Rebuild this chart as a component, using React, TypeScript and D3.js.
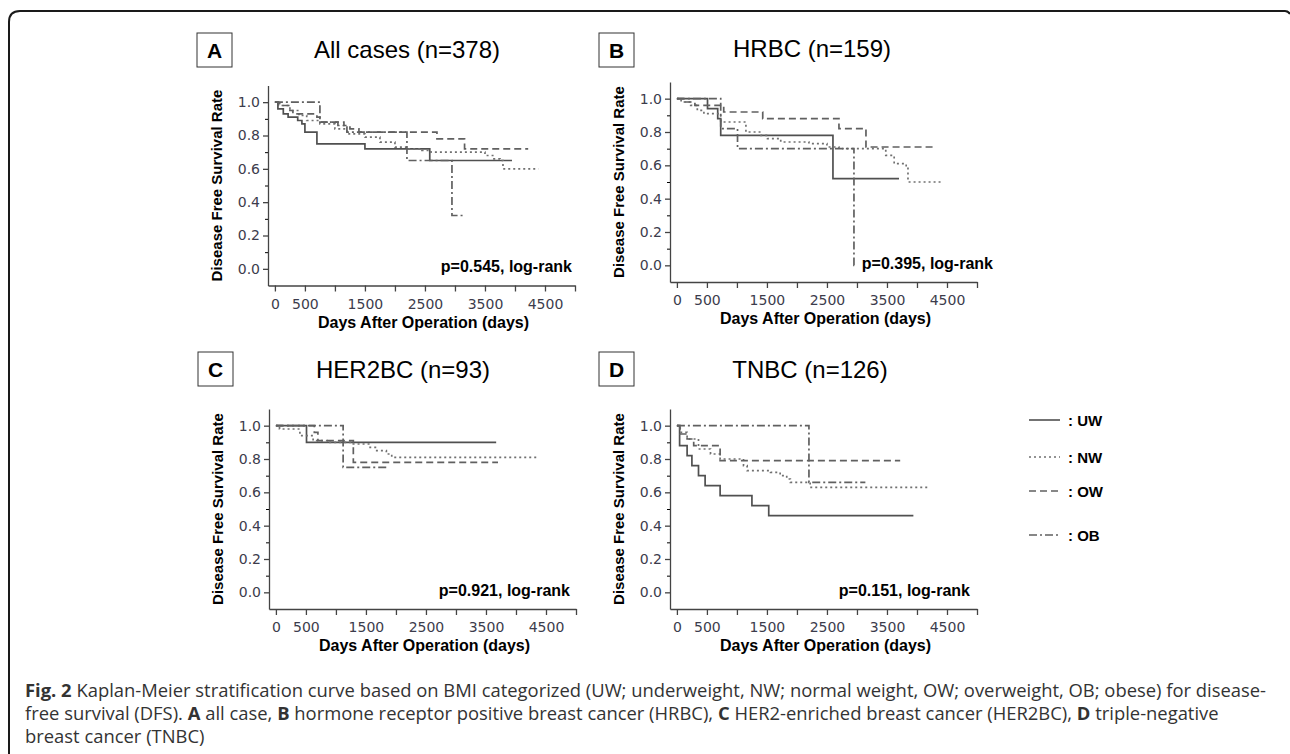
import React, { useRef, useEffect } from 'react';
import * as d3 from 'd3';

// BMI groups, in legend order
const groups = ['UW', 'NW', 'OW', 'OB'];

// axis ticks
const xTicks = [0, 500, 1000, 1500, 2000, 2500, 3000, 3500, 4000, 4500, 5000];
const xTickLabels = [0, 500, 1500, 2500, 3500, 4500];
const yTicks = [0, 0.2, 0.4, 0.6, 0.8, 1.0];
const yMinorTicks = [0.1, 0.3, 0.5, 0.7, 0.9];

// Kaplan-Meier steps [days, survival]
// A: all cases
const aUW: [number, number][] = [[0, 1], [50, 0.96], [140, 0.93], [220, 0.91], [380, 0.89], [450, 0.87], [500, 0.82], [700, 0.75], [1500, 0.72], [2580, 0.65], [3950, 0.65]];
const aNW: [number, number][] = [[0, 1], [80, 0.98], [250, 0.95], [400, 0.92], [530, 0.89], [750, 0.87], [1000, 0.84], [1200, 0.81], [1500, 0.79], [1750, 0.76], [2000, 0.73], [2200, 0.72], [2450, 0.71], [2600, 0.70], [3500, 0.68], [3650, 0.66], [3750, 0.65], [3800, 0.60], [4390, 0.60]];
const aOW: [number, number][] = [[0, 1], [60, 0.98], [250, 0.95], [300, 0.93], [700, 0.91], [750, 0.88], [1150, 0.86], [1250, 0.84], [1400, 0.82], [2700, 0.78], [3160, 0.72], [4220, 0.72]];
const aOB: [number, number][] = [[0, 1], [750, 0.88], [1050, 0.86], [1200, 0.82], [2200, 0.65], [2950, 0.32], [3140, 0.32]];
// B: HRBC
const bUW: [number, number][] = [[0, 1], [510, 0.94], [680, 0.88], [730, 0.78], [2600, 0.52], [3700, 0.52]];
const bNW: [number, number][] = [[0, 1], [70, 0.98], [230, 0.96], [340, 0.93], [450, 0.91], [730, 0.86], [1150, 0.80], [1400, 0.78], [1510, 0.76], [1730, 0.74], [2200, 0.73], [2500, 0.71], [2700, 0.70], [3480, 0.66], [3620, 0.61], [3820, 0.59], [3850, 0.50], [4400, 0.50]];
const bOW: [number, number][] = [[0, 1], [120, 0.98], [300, 0.96], [780, 0.92], [1430, 0.88], [2700, 0.82], [3150, 0.71], [4260, 0.71]];
const bOB: [number, number][] = [[0, 1], [730, 0.82], [1010, 0.70], [2950, 0.0], [2960, 0.0]];
// C: HER2BC
const cUW: [number, number][] = [[0, 1], [510, 0.90], [3670, 0.90]];
const cNW: [number, number][] = [[0, 1], [60, 0.98], [400, 0.94], [620, 0.91], [900, 0.90], [1290, 0.89], [1570, 0.87], [1680, 0.85], [1840, 0.83], [1930, 0.81], [4340, 0.81]];
const cOW: [number, number][] = [[0, 1], [640, 0.96], [700, 0.91], [1290, 0.78], [3700, 0.78]];
const cOB: [number, number][] = [[0, 1], [1120, 0.75], [1870, 0.75]];
// D: TNBC
const dUW: [number, number][] = [[0, 1], [45, 0.88], [170, 0.82], [250, 0.76], [360, 0.70], [470, 0.64], [720, 0.58], [1250, 0.52], [1530, 0.46], [3940, 0.46]];
const dNW: [number, number][] = [[0, 1], [55, 0.96], [170, 0.92], [360, 0.86], [560, 0.83], [720, 0.80], [1110, 0.76], [1170, 0.73], [1560, 0.72], [1720, 0.70], [1830, 0.68], [1890, 0.66], [2220, 0.63], [4220, 0.63]];
const dOW: [number, number][] = [[0, 1], [50, 0.95], [170, 0.92], [280, 0.88], [720, 0.79], [3720, 0.79]];
const dOB: [number, number][] = [[0, 1], [2200, 0.66], [3140, 0.66]];

const panelLetters = ['A', 'B', 'C', 'D'];
const panelTitles = ['All cases (n=378)', 'HRBC (n=159)', 'HER2BC (n=93)', 'TNBC (n=126)'];
const pValues = ['p=0.545, log-rank', 'p=0.395, log-rank', 'p=0.921, log-rank', 'p=0.151, log-rank'];
const panelCurves = [[aUW, aNW, aOW, aOB], [bUW, bNW, bOW, bOB], [cUW, cNW, cOW, cOB], [dUW, dNW, dOW, dOB]];

// layout of each panel (y axis x, axis top, title offsets, p-value right edge)
const layout = [
  { ax: 268, top: 85.5, titleX: 139, titleDy: 28, boxDy: 52.5, pRight: 304 },
  { ax: 670, top: 82, titleX: 142, titleDy: 25, boxDy: 49, pRight: 323 },
  { ax: 269, top: 409, titleX: 134, titleDy: 31, boxDy: 57, pRight: 301 },
  { ax: 670, top: 409, titleX: 140, titleDy: 31, boxDy: 57, pRight: 300 },
];

const lineStyle: Record<string, { dash: string; color: string }> = {
  UW: { dash: '', color: '#505050' },
  NW: { dash: '2,3', color: '#707070' },
  OW: { dash: '7,4', color: '#606060' },
  OB: { dash: '8,3,2,3', color: '#606060' },
};

const W = 1290;
const H = 754;
const plotW = 307;
const plotH = 200;

const App = () => {
  const svgRef = useRef<SVGSVGElement | null>(null);

  useEffect(() => {
    const svg = d3.select(svgRef.current);
    svg.selectAll('*').remove();

    // figure frame with rounded corner
    svg.append('path')
      .attr('d', `M9,${H} L9,22 Q9,11 20,11 L1285,11 Q1288,11 1290,14`)
      .attr('fill', 'none')
      .attr('stroke', '#1a1a1a')
      .attr('stroke-width', 2);

    const x = d3.scaleLinear().domain([-115, 5000]).range([0, plotW]);
    const y = d3.scaleLinear().domain([-0.1, 1.1]).range([plotH, 0]);
    const line = d3.line<[number, number]>()
      .x(d => x(d[0]))
      .y(d => y(d[1]))
      .curve(d3.curveStepAfter);

    panelCurves.forEach((curves, i) => {
      const L = layout[i];
      const g = svg.append('g').attr('transform', `translate(${L.ax},${L.top})`);

      // panel letter box
      g.append('rect')
        .attr('x', -71).attr('y', -L.boxDy)
        .attr('width', 35).attr('height', 34)
        .attr('fill', 'white').attr('stroke', '#333').attr('stroke-width', 1);
      g.append('text')
        .attr('x', -53.5).attr('y', -L.boxDy + 25)
        .attr('text-anchor', 'middle')
        .style('font-family', 'Liberation Sans, Arial')
        .style('font-weight', 'bold')
        .style('font-size', '21px')
        .text(panelLetters[i]);

      // title
      g.append('text')
        .attr('x', L.titleX).attr('y', -L.titleDy)
        .attr('text-anchor', 'middle')
        .style('font-family', 'Liberation Sans, Arial')
        .style('font-size', '24px')
        .text(panelTitles[i]);

      // y axis
      const yAxis = g.append('g')
        .call(d3.axisLeft(y).tickValues(yTicks).tickSize(5).tickSizeOuter(0).tickFormat(d3.format('.1f')));
      g.append('g')
        .call(d3.axisLeft(y).tickValues(yMinorTicks).tickSize(3).tickSizeOuter(0).tickFormat(() => ''))
        .select('.domain').remove();

      // x axis
      const xAxis = g.append('g')
        .attr('transform', `translate(0,${plotH})`)
        .call(d3.axisBottom(x).tickValues(xTicks).tickSize(6).tickSizeOuter(0)
          .tickFormat(d => (xTickLabels.includes(+d) ? String(d) : '')));

      [yAxis, xAxis].forEach(a => {
        a.selectAll('path, line').attr('stroke', '#444').attr('stroke-width', 1.3);
        a.selectAll('text')
          .style('font-family', 'DejaVu Sans, Verdana')
          .style('font-size', '14px')
          .attr('fill', '#3c3c4c');
      });
      xAxis.selectAll('text').attr('dy', '1.0em');

      // axis titles
      g.append('text')
        .attr('transform', `translate(-46,${plotH / 2}) rotate(-90)`)
        .attr('text-anchor', 'middle')
        .style('font-family', 'Liberation Sans, Arial')
        .style('font-weight', 'bold')
        .style('font-size', '15px')
        .text('Disease Free Survival Rate');
      g.append('text')
        .attr('x', plotW / 2 + 2).attr('y', plotH + 42)
        .attr('text-anchor', 'middle')
        .style('font-family', 'Liberation Sans, Arial')
        .style('font-weight', 'bold')
        .style('font-size', '16px')
        .text('Days After Operation (days)');

      // curves
      curves.forEach((c, k) => {
        const st = lineStyle[groups[k]];
        g.append('path')
          .datum(c)
          .attr('d', line)
          .attr('fill', 'none')
          .attr('stroke', st.color)
          .attr('stroke-width', 1.7)
          .attr('stroke-dasharray', st.dash || null);
      });

      // p-value
      g.append('text')
        .attr('x', L.pRight).attr('y', plotH - 13.5)
        .attr('text-anchor', 'end')
        .style('font-family', 'Liberation Sans, Arial')
        .style('font-weight', 'bold')
        .style('font-size', '16px')
        .text(pValues[i]);
    });

    // legend
    const legendY = [420, 457, 491, 535];
    const lg = svg.append('g');
    groups.forEach((grp, k) => {
      const st = lineStyle[grp];
      lg.append('line')
        .attr('x1', 1029).attr('x2', 1060)
        .attr('y1', legendY[k]).attr('y2', legendY[k])
        .attr('stroke', st.color).attr('stroke-width', 1.6)
        .attr('stroke-dasharray', st.dash || null);
      lg.append('text')
        .attr('x', 1068).attr('y', legendY[k] + 5.5)
        .style('font-family', 'Liberation Sans, Arial')
        .style('font-weight', 'bold')
        .style('font-size', '15px')
        .text(': ' + grp);
    });

    // caption
    const cap = svg.append('text')
      .style('font-family', 'Open Sans')
      .style('font-size', '18.4px')
      .attr('fill', '#333');
    const l1 = cap.append('tspan').attr('x', 25).attr('y', 697);
    l1.append('tspan').style('font-weight', 'bold').text('Fig. 2');
    l1.append('tspan').text(' Kaplan-Meier stratification curve based on BMI categorized (UW; underweight, NW; normal weight, OW; overweight, OB; obese) for disease-');
    const l2 = cap.append('tspan').attr('x', 25).attr('y', 720);
    const parts: [string, boolean][] = [
      ['free survival (DFS). ', false], ['A', true], [' all case, ', false], ['B', true],
      [' hormone receptor positive breast cancer (HRBC), ', false], ['C', true],
      [' HER2-enriched breast cancer (HER2BC), ', false], ['D', true], [' triple-negative', false],
    ];
    parts.forEach(([t, b]) => l2.append('tspan').style('font-weight', b ? 'bold' : 'normal').text(t));
    cap.append('tspan').attr('x', 25).attr('y', 743).text('breast cancer (TNBC)');
  }, []);

  return (
    <svg ref={svgRef} width={W} height={H} style={{ position: 'absolute', left: 0, top: 0, background: 'white' }}></svg>
  );
};

export default App;
